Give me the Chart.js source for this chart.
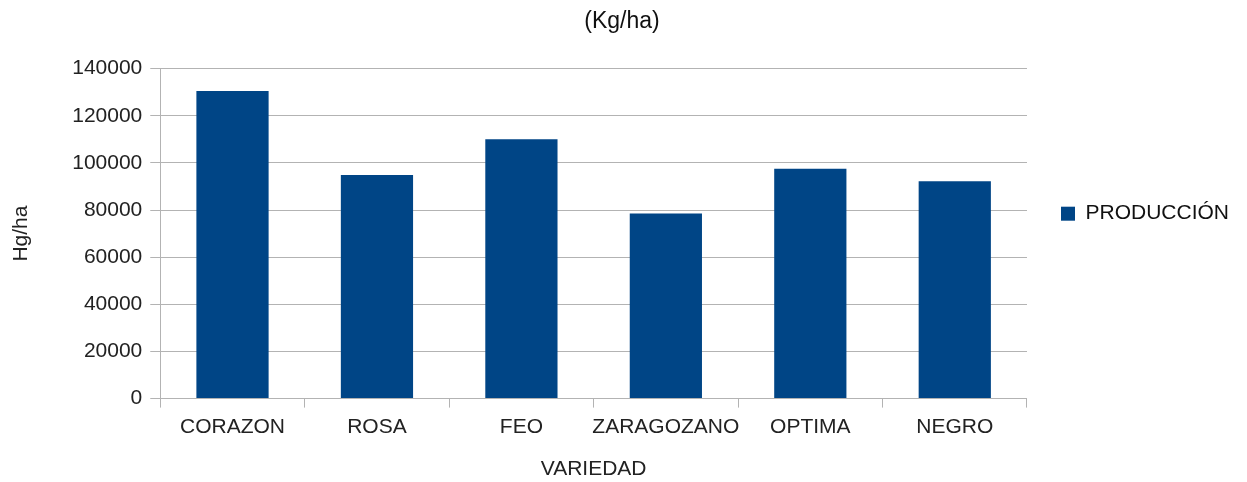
<!DOCTYPE html>
<html>
<head>
<meta charset="utf-8">
<script src="https://cdn.jsdelivr.net/npm/chart.js@4/dist/chart.umd.min.js"></script>
<style>
  html, body { margin: 0; padding: 0; background: #ffffff; }
</style>
</head>
<body>
<canvas id="chart1" width="1247" height="482"></canvas>
<script>
"use strict";

// data
var variedades = ['CORAZON', 'ROSA', 'FEO', 'ZARAGOZANO', 'OPTIMA', 'NEGRO'];
var produccion = [130500, 94900, 110000, 78500, 97500, 92200];
var yTicks = [0, 20000, 40000, 60000, 80000, 100000, 120000, 140000];

Chart.defaults.font.family = '"Liberation Sans", Arial, sans-serif';
Chart.defaults.font.size = 21;
Chart.defaults.color = '#222222';

var lineGrey = '#b3b3b3';

var ctx = document.getElementById('chart1').getContext('2d');
var myChart = new Chart(ctx, {
	type: 'bar',
	data: {
		labels: variedades,
		datasets: [{
			label: 'PRODUCCIÓN',
			data: produccion,
			backgroundColor: '#004586',
			borderWidth: 0,
			categoryPercentage: 1,
			barPercentage: 0.5
		}]
	},
	options: {
		responsive: false,
		animation: false,
		layout: {
			padding: { left: 5, right: 8, top: 4, bottom: 0 }
		},
		plugins: {
			title: {
				display: true,
				text: '(Kg/ha)',
				font: { size: 23, weight: 'normal' },
				color: '#111111',
				padding: { top: 4, bottom: 33 }
			},
			legend: {
				position: 'right',
				align: 'start',
				title: {
					display: true,
					text: ' ',
					padding: { top: 140, bottom: 0 }
				},
				labels: {
					boxWidth: 14,
					boxHeight: 14,
					padding: 34,
					color: '#111111'
				}
			},
			tooltip: { enabled: false }
		},
		scales: {
			x: {
				grid: {
					offset: true,
					drawOnChartArea: true,
					tickLength: 9,
					color: function(c) {
						return (c.index === 0 || c.index === variedades.length) ? lineGrey : 'rgba(0,0,0,0)';
					},
					tickColor: lineGrey
				},
				border: { color: lineGrey },
				ticks: { padding: 7, maxRotation: 0, autoSkip: false },
				title: {
					display: true,
					text: 'VARIEDAD',
					padding: { top: 10, bottom: 0 }
				}
			},
			y: {
				min: 0,
				max: 140000,
				afterBuildTicks: function(axis) {
					axis.ticks = yTicks.map(function(v) { return { value: v }; });
				},
				grid: {
					color: lineGrey,
					tickLength: 10,
					tickColor: lineGrey
				},
				border: { color: lineGrey },
				ticks: {
					padding: 8,
					callback: function(v) { return String(v); }
				},
				title: {
					display: true,
					text: 'Hg/ha',
					padding: { bottom: 30 }
				}
			}
		}
	}
});
</script>
</body>
</html>
